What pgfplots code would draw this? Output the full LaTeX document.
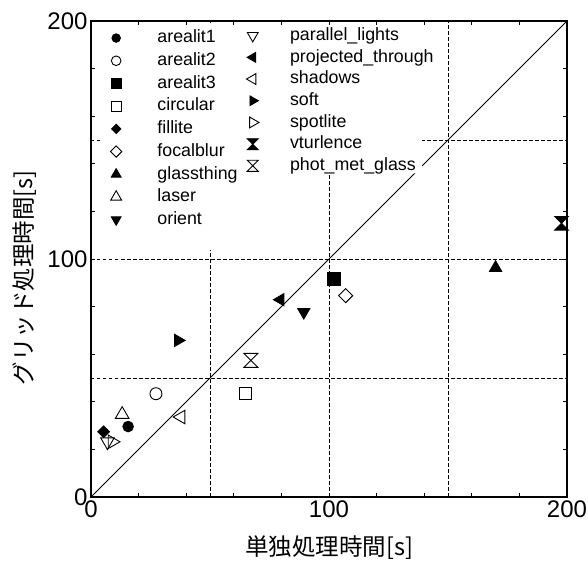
\documentclass[border=0pt]{standalone}
\usepackage{pgfplots}
\pgfplotsset{compat=1.18}
\usepackage{fontspec}
\setmainfont{Liberation Sans}
\newfontfamily\cjk{Noto Sans CJK JP}
\pgfdeclareplotmark{hourglass}{%
 \pgfpathmoveto{\pgfqpoint{-\pgfplotmarksize}{\pgfplotmarksize}}%
 \pgfpathlineto{\pgfqpoint{\pgfplotmarksize}{\pgfplotmarksize}}%
 \pgfpathlineto{\pgfqpoint{-\pgfplotmarksize}{-\pgfplotmarksize}}%
 \pgfpathlineto{\pgfqpoint{\pgfplotmarksize}{-\pgfplotmarksize}}%
 \pgfpathclose\pgfusepathqstroke}
\pgfdeclareplotmark{hourglass*}{%
 \pgfpathmoveto{\pgfqpoint{-\pgfplotmarksize}{\pgfplotmarksize}}%
 \pgfpathlineto{\pgfqpoint{\pgfplotmarksize}{\pgfplotmarksize}}%
 \pgfpathlineto{\pgfqpoint{-\pgfplotmarksize}{-\pgfplotmarksize}}%
 \pgfpathlineto{\pgfqpoint{\pgfplotmarksize}{-\pgfplotmarksize}}%
 \pgfpathclose\pgfusepathqfillstroke}
\pgfplotsset{
  base/.style={width=476pt, height=476pt, scale only axis,
    xmin=0, xmax=200, ymin=0, ymax=200, at={(0pt,0pt)}, anchor=south west},
  gridline/.style={forget plot, black, line width=0.9pt, dash pattern=on 3.5pt off 2.5pt},
  pt/.style={only marks, black, line width=0.9pt, fill=black},
  lgd/.style={draw=none, fill=none, inner sep=0pt, outer sep=0pt,
    font=\fontsize{17.8}{22}\selectfont,
    nodes={inner sep=2.6pt, text height=13.5pt, text depth=4pt},
    row sep=0pt},
}
\begin{document}
\begin{tikzpicture}
\path[use as bounding box] (-91pt,-64pt) rectangle (497pt,497pt);
\begin{axis}[base,
  axis on top,
  xtick={0,100,200}, ytick={0,100,200},
  minor x tick num=4, minor y tick num=4,
  tick align=inside, major tick length=4pt, minor tick length=4pt,
  axis line style={line width=1.2pt},
  every tick/.style={black, line width=0.9pt},
  /pgf/number format/assume math mode=true,
  tick label style={font=\fontsize{24}{28}\selectfont},
  label style={font=\cjk\fontsize{23.5}{28}\selectfont},
  xlabel={単独処理時間[s]},
  ylabel={グリッド処理時間[s]},
  xlabel style={at={(axis description cs:0.5,-0.106)}, anchor=center},
  ylabel style={at={(axis description cs:-0.1387,0.46)}, anchor=center},
  legend style={lgd, column sep=33pt, at={(axis description cs:0.041,0.988)}, anchor=north west},
  legend cell align=left,
  legend image post style={/tikz/every mark/.append style={scale=0.8}},
]
\addplot[gridline] coordinates {(50,0)(50,200)};
\addplot[gridline] coordinates {(100,0)(100,200)};
\addplot[gridline] coordinates {(150,0)(150,200)};
\addplot[gridline] coordinates {(0,50)(200,50)};
\addplot[gridline] coordinates {(0,100)(200,100)};
\addplot[gridline] coordinates {(0,150)(200,150)};
\addplot[forget plot, black, line width=1pt] coordinates {(0,0)(200,200)};
\addplot[forget plot, fill=white, draw=none] coordinates {(4.2,198.3)(139,198.3)(139,136)(62.6,136)(62.6,103.8)(4.2,103.8)};
\addplot[pt, mark=*, mark size=5.3] coordinates {(15.6,29.6)};
\addlegendentry{arealit1}
\addplot[pt, mark=o, mark size=6] coordinates {(27.3,43.4)};
\addlegendentry{arealit2}
\addplot[pt, mark=square*, mark size=6.5] coordinates {(102,91.5)};
\addlegendentry{arealit3}
\addplot[pt, mark=square, mark size=6] coordinates {(64.7,43.4)};
\addlegendentry{circular}
\addplot[pt, mark=square*, mark size=4.1, mark options={rotate=45}] coordinates {(5.3,27.4)};
\addlegendentry{fillite}
\addplot[pt, mark=square, mark size=5, mark options={rotate=45}] coordinates {(107,84.6)};
\addlegendentry{focalblur}
\addplot[pt, mark=triangle*, mark size=7] coordinates {(170,96.3)};
\addlegendentry{glassthing}
\addplot[pt, mark=triangle, mark size=7.8] coordinates {(13.1,34.7)};
\addlegendentry{laser}
\addplot[pt, mark=triangle*, mark size=7, mark options={rotate=180}] coordinates {(89.4,77.7)};
\addlegendentry{orient}
\addplot[pt, mark=triangle, mark size=7.8, mark options={rotate=180}] coordinates {(6.9,23.2)};
\addplot[pt, mark=triangle*, mark size=7, mark options={rotate=90}] coordinates {(79.6,82.9)};
\addplot[pt, mark=triangle, mark size=7.8, mark options={rotate=90}] coordinates {(37.8,33.6)};
\addplot[pt, mark=triangle*, mark size=7, mark options={rotate=-90}] coordinates {(36.6,65.8)};
\addplot[pt, mark=triangle, mark size=7.8, mark options={rotate=-90}] coordinates {(8.9,23.2)};
\addplot[pt, mark=hourglass*, mark size=6.8] coordinates {(197.7,115)};
\addplot[pt, mark=hourglass, mark size=7] coordinates {(67.2,57.4)};
\end{axis}
\begin{axis}[base, hide axis,
  legend style={lgd, column sep=29pt, nodes={inner sep=2.1pt}, at={(axis description cs:0.3267,0.992)}, anchor=north west},
  legend cell align=left,
  legend image post style={/tikz/every mark/.append style={scale=0.8}},
]
\addlegendimage{pt, mark=triangle, mark size=7.8, mark options={rotate=180}}
\addlegendentry{parallel\_lights}
\addlegendimage{pt, mark=triangle*, mark size=7, mark options={rotate=90}}
\addlegendentry{projected\_through}
\addlegendimage{pt, mark=triangle, mark size=7.8, mark options={rotate=90}}
\addlegendentry{shadows}
\addlegendimage{pt, mark=triangle*, mark size=7, mark options={rotate=-90}}
\addlegendentry{soft}
\addlegendimage{pt, mark=triangle, mark size=7.8, mark options={rotate=-90}}
\addlegendentry{spotlite}
\addlegendimage{pt, mark=hourglass*, mark size=6.8}
\addlegendentry{vturlence}
\addlegendimage{pt, mark=hourglass, mark size=7}
\addlegendentry{phot\_met\_glass}
\end{axis}
\end{tikzpicture}
\end{document}
